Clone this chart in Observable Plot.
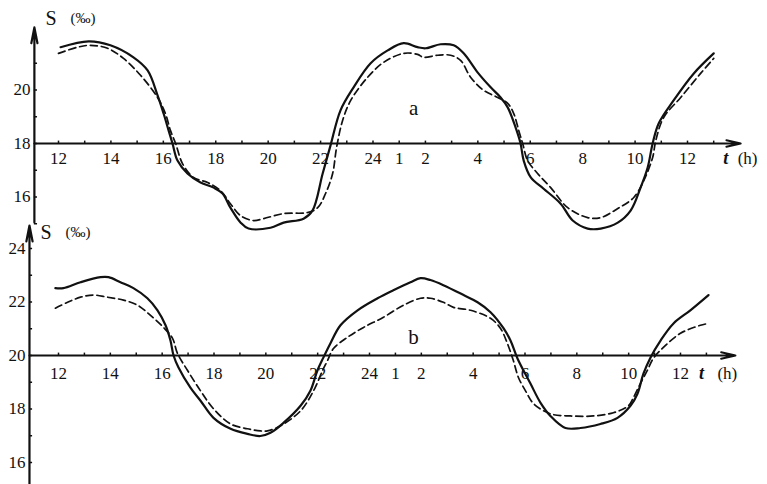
<!DOCTYPE html>
<html>
<head>
<meta charset="utf-8">
<script src="https://cdn.jsdelivr.net/npm/d3@7"></script>
<script src="https://cdn.jsdelivr.net/npm/@observablehq/plot@0.6"></script>
<style>
  html, body { margin: 0; padding: 0; background: #fff; }
  #chart { position: relative; width: 767px; height: 484px; overflow: hidden; }
  #chart svg { position: absolute; left: 0; background: transparent; }
  #chart svg text { font-family: "Liberation Serif", "DejaVu Serif", serif !important; }
</style>
</head>
<body>
<div id="chart"></div>
<script>
// Time runs from 12 h on the first day to past 12 h on the next; hours after midnight are 24 + h.
const tickHours  = [12, 14, 16, 18, 20, 22, 24, 25, 26, 28, 30, 32, 34, 36];
const tickLabels = ["12", "14", "16", "18", "20", "22", "24", "1", "2", "4", "6", "8", "10", "12"];
const hourMarks  = [12,13,14,15,16,17,18,19,20,21,22,23,24,25,26,27,28,29,30,31,32,33,34,35,36,37];

// Panel a: salinity S (‰), solid and dashed records, [t (h), S]
const aSolid = [
  [12.08,21.60],[13.15,21.82],[13.98,21.67],[14.86,21.22],[15.40,20.73],[15.78,19.80],
  [16.01,19.12],[16.20,18.49],[16.35,18.00],[16.54,17.36],[16.92,16.88],[17.42,16.54],
  [17.92,16.35],[18.26,16.13],[18.56,15.60],[18.95,15.04],[19.25,14.82],[20.09,14.85],
  [20.59,15.04],[21.35,15.19],[21.69,15.49],[22.08,16.88],[22.38,17.93],[22.76,19.24],
  [23.26,20.10],[23.91,21.00],[24.56,21.48],[25.17,21.75],[25.70,21.60],[26.01,21.56],
  [26.58,21.71],[27.08,21.67],[27.46,21.37],[27.99,20.66],[28.49,20.10],[28.87,19.72],
  [29.14,19.35],[29.44,18.60],[29.63,18.00],[29.75,17.36],[30.02,16.73],[30.51,16.31],
  [31.16,15.75],[31.62,15.12],[32.19,14.82],[32.69,14.82],[33.34,15.04],[33.83,15.49],
  [34.21,16.35],[34.48,17.10],[34.67,18.00],[34.90,18.75],[35.47,19.61],[36.24,20.62],
  [37.00,21.37]
];
const aDashed = [
  [12.00,21.37],[12.73,21.60],[13.22,21.67],[13.87,21.56],[14.48,21.18],[15.13,20.55],
  [15.78,19.72],[16.08,19.12],[16.27,18.49],[16.47,18.00],[16.73,17.25],[17.15,16.73],
  [17.69,16.54],[18.18,16.24],[18.56,15.75],[18.95,15.30],[19.44,15.12],[19.82,15.19],
  [20.59,15.38],[21.50,15.42],[21.89,15.60],[22.19,16.13],[22.46,16.88],[22.61,17.85],
  [22.84,18.86],[23.15,19.61],[23.79,20.47],[24.40,21.03],[25.17,21.37],[25.70,21.33],
  [25.93,21.22],[26.47,21.30],[26.96,21.30],[27.34,21.11],[27.73,20.47],[28.22,19.99],
  [28.76,19.72],[29.14,19.50],[29.37,19.12],[29.56,18.49],[29.71,18.00],[29.90,17.36],
  [30.28,16.88],[30.78,16.35],[31.43,15.60],[32.19,15.23],[32.69,15.23],[33.34,15.57],
  [33.95,15.98],[34.33,16.61],[34.67,17.48],[34.79,18.11],[35.09,18.97],[35.74,19.72],
  [36.50,20.62],[37.00,21.18]
];
const aYLabels = [16, 18, 20];
const aYMarks  = [15, 16, 17, 18, 19, 20, 21, 22];

// Panel b
const bSolid = [
  [11.88,22.52],[12.19,22.52],[12.85,22.74],[13.62,22.93],[13.93,22.93],[14.39,22.74],
  [14.89,22.52],[15.43,22.14],[15.82,21.69],[16.13,21.13],[16.32,20.56],[16.44,20.00],
  [16.63,19.55],[17.09,18.80],[17.48,18.31],[17.98,17.67],[18.64,17.26],[19.29,17.07],
  [19.79,16.99],[20.18,17.11],[20.68,17.48],[21.34,18.12],[21.72,18.68],[21.99,19.44],
  [22.22,19.92],[22.49,20.45],[22.88,21.13],[23.54,21.69],[24.31,22.14],[24.92,22.44],
  [25.58,22.74],[25.97,22.89],[26.35,22.82],[26.85,22.63],[27.63,22.26],[28.17,21.99],
  [28.67,21.62],[29.17,21.02],[29.44,20.56],[29.71,19.89],[30.21,18.95],[30.60,18.23],
  [30.98,17.74],[31.56,17.29],[32.14,17.29],[32.91,17.44],[33.57,17.67],[34.07,18.12],
  [34.34,18.57],[34.57,19.32],[34.84,19.92],[35.23,20.56],[35.73,21.20],[36.38,21.69],
  [37.08,22.26]
];
const bDashed = [
  [11.88,21.77],[12.35,21.99],[12.85,22.18],[13.35,22.26],[13.89,22.18],[14.51,22.07],
  [15.05,21.88],[15.55,21.50],[16.05,21.05],[16.40,20.64],[16.59,20.08],[16.98,19.44],
  [17.48,18.68],[17.98,18.01],[18.64,17.44],[19.29,17.26],[19.79,17.18],[20.06,17.18],
  [20.56,17.37],[21.34,17.93],[21.84,18.68],[22.19,19.44],[22.38,19.81],[22.61,20.26],
  [23.15,20.68],[23.77,21.05],[24.54,21.43],[25.31,21.88],[25.97,22.14],[26.35,22.14],
  [26.85,21.99],[27.24,21.80],[27.90,21.69],[28.67,21.39],[29.05,21.02],[29.32,20.45],
  [29.55,19.81],[29.75,19.17],[30.02,18.68],[30.33,18.20],[30.98,17.82],[31.75,17.74],
  [32.64,17.74],[33.41,17.86],[33.99,18.12],[34.18,18.42],[34.45,18.95],[34.72,19.44],
  [34.95,19.89],[35.34,20.30],[36.00,20.83],[36.77,21.13],[37.08,21.20]
];
const bYLabels = [16, 18, 20, 22, 24];
const bYMarks  = [16, 17, 18, 19, 20, 21, 22, 23, 24];

const ink = "#111";

function panel(o) {
  const px = d => d[0], py = d => d[1];
  const txt = {fill: ink};
  return Plot.plot({
    width: 767,
    height: o.height,
    margin: 0,
    style: {background: "transparent"},
    x: {domain: [12, 36], range: o.xRange, axis: null},
    y: {domain: o.yDomain, range: o.yRange, axis: null},
    marks: [
      // time axis through the reference salinity, with an arrow at its end
      Plot.arrow([0], {x1: () => o.origin, x2: () => o.tEnd, y1: () => o.base, y2: () => o.base,
        stroke: ink, strokeWidth: 2, headLength: 11, headAngle: 26}),
      // salinity axis
      Plot.arrow([0], {x1: () => o.origin, x2: () => o.origin, y1: () => o.sLow, y2: () => o.sHigh,
        stroke: ink, strokeWidth: 2.2, headLength: 11, headAngle: 22}),
      Plot.ruleX(hourMarks, {x: d => d, y1: () => o.base, y2: () => o.base + 0.09, stroke: ink, strokeWidth: 1.5}),
      Plot.ruleY(o.yMarks, {y: d => d, x1: () => o.origin, x2: () => o.origin + 0.12, stroke: ink, strokeWidth: 1.5}),
      Plot.text(o.yLabels, {...txt, x: () => o.origin, y: d => d, text: d => String(d), textAnchor: "end",
        dx: -4, fontSize: 17}),
      Plot.text(tickHours, {...txt, x: d => d, y: () => o.base, text: (d, i) => tickLabels[i],
        dy: o.labelDy, fontSize: 17}),
      Plot.text([0], {...txt, x: () => o.tEnd, y: () => o.base, text: () => "t", dx: o.tDx, dy: o.labelDy,
        fontSize: 18, fontStyle: "italic", fontWeight: "bold"}),
      Plot.text([0], {...txt, x: () => o.tEnd, y: () => o.base, text: () => "(h)", dx: o.hDx, dy: o.labelDy,
        fontSize: 17, textAnchor: "start"}),
      Plot.text([0], {...txt, x: () => o.origin, y: () => o.sHigh, text: () => "S", dx: 11, dy: o.sDy,
        fontSize: 20, textAnchor: "start"}),
      Plot.text([0], {...txt, x: () => o.origin, y: () => o.sHigh, text: () => "(‰)", dx: 36, dy: o.sDy,
        fontSize: 15, textAnchor: "start"}),
      Plot.text([0], {...txt, x: () => o.letterAt[0], y: () => o.letterAt[1], text: () => o.letter,
        fontSize: 21}),
      // records
      Plot.line(o.dashed, {x: px, y: py, curve: "catmull-rom", stroke: ink, strokeWidth: 1.7,
        strokeDasharray: "7,4"}),
      Plot.line(o.solid, {x: px, y: py, curve: "catmull-rom", stroke: ink, strokeWidth: 2.2})
    ]
  });
}

const chart = document.getElementById("chart");

const svgA = panel({
  height: 232, xRange: [58, 687], yDomain: [16, 20], yRange: [196.5, 89.5],
  origin: 11.08, tEnd: 38.03, base: 18, sLow: 15.05, sHigh: 22.34,
  yLabels: aYLabels, yMarks: aYMarks, solid: aSolid, dashed: aDashed,
  labelDy: 15, tDx: -15, hDx: -3, sDy: -9, letter: "a", letterAt: [25.55, 19.3]
});
svgA.style.top = "0px";
chart.appendChild(svgA);

const svgB = panel({
  height: 262, xRange: [58, 680], yDomain: [16, 24], yRange: [240, 26],
  origin: 10.88, tEnd: 38.12, base: 20, sLow: 15.1, sHigh: 24.86,
  yLabels: bYLabels, yMarks: bYMarks, solid: bSolid, dashed: bDashed,
  labelDy: 18, tDx: -34, hDx: -18, sDy: 7, letter: "b", letterAt: [25.7, 20.67]
});
svgB.style.top = "222px";
chart.appendChild(svgB);
</script>
</body>
</html>
